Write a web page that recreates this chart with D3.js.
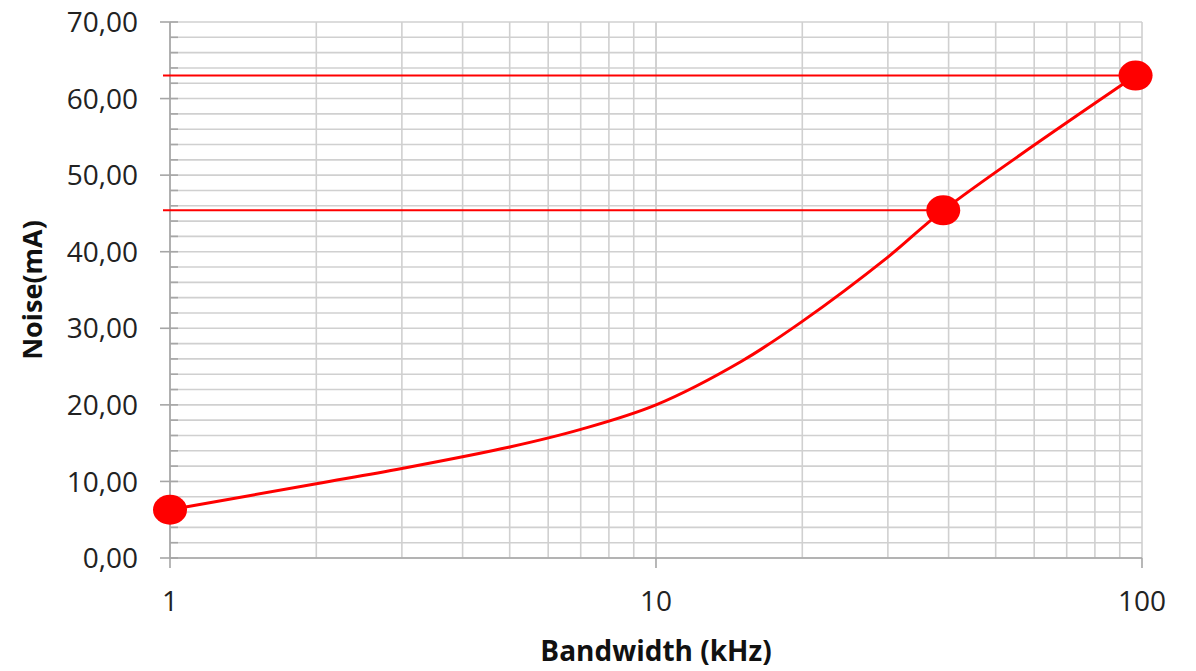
<!DOCTYPE html>
<html>
<head>
<meta charset="utf-8">
<script src="https://cdn.jsdelivr.net/npm/d3@7"></script>
<style>
  html, body { margin: 0; padding: 0; background: #fff; }
  svg { display: block; }
  text { font-family: "Open Sans", "DejaVu Sans", sans-serif; fill: #222; }
</style>
</head>
<body>
<svg id="chart"></svg>
<script>
// curve (bandwidth kHz -> noise mA)
const bandwidth = [1, 2, 3, 5, 7, 10, 15, 20, 30, 39, 97];
const noise = [6.3, 9.7, 11.7, 14.5, 16.8, 20.0, 25.7, 30.9, 39.3, 45.4, 63.0];

// highlighted points
const markBw = [1, 39, 97];
const markNoise = [6.3, 45.4, 63.0];
// reference lines drawn from the y axis to a marker
const refLineIdx = [1, 2];

const xTicks = [1, 10, 100];
const yTicks = [0, 10, 20, 30, 40, 50, 60, 70];

const W = 1196, H = 671;
const margin = { top: 22, right: 54, bottom: 113, left: 170 };
const width = W - margin.left - margin.right;
const height = H - margin.top - margin.bottom;

const svg = d3.select('#chart')
  .attr('width', W)
  .attr('height', H);

const g = svg.append('g')
  .attr('transform', 'translate(' + margin.left + ',' + margin.top + ')');

const x = d3.scaleLog().domain([1, 100]).range([0, width]);
const y = d3.scaleLinear().domain([0, 70]).range([height, 0]);

// grid: minor log lines for x, every 2 for y
const xGrid = [];
for (let dec = 1; dec < 100; dec *= 10) {
  for (let k = 1; k <= 10; k++) xGrid.push(dec * k);
}
const yGrid = d3.range(0, 70.001, 2);

g.append('g')
  .selectAll('line')
  .data(yGrid)
  .enter().append('line')
  .attr('x1', 0).attr('x2', width)
  .attr('y1', d => y(d)).attr('y2', d => y(d))
  .attr('stroke', '#d0d0d0')
  .attr('stroke-width', 1.6);

g.append('g')
  .selectAll('line')
  .data(xGrid)
  .enter().append('line')
  .attr('x1', d => x(d)).attr('x2', d => x(d))
  .attr('y1', 0).attr('y2', height)
  .attr('stroke', '#d0d0d0')
  .attr('stroke-width', 1.6);

// y axis with minor ticks inside
const yAxis = g.append('g');
yAxis.append('line')
  .attr('x1', 0).attr('x2', 0).attr('y1', 0).attr('y2', height)
  .attr('stroke', '#a6a6a6').attr('stroke-width', 1.6);
yAxis.selectAll('.minor')
  .data(yGrid)
  .enter().append('line')
  .attr('x1', 0).attr('x2', 8)
  .attr('y1', d => y(d)).attr('y2', d => y(d))
  .attr('stroke', '#a6a6a6').attr('stroke-width', 1.6);
yAxis.selectAll('.major')
  .data(yTicks)
  .enter().append('line')
  .attr('x1', -10).attr('x2', 0)
  .attr('y1', d => y(d)).attr('y2', d => y(d))
  .attr('stroke', '#a6a6a6').attr('stroke-width', 1.6);
yAxis.selectAll('text')
  .data(yTicks)
  .enter().append('text')
  .attr('x', -32)
  .attr('y', d => y(d))
  .attr('dy', '0.36em')
  .attr('text-anchor', 'end')
  .style('font-size', '28px')
  .text(d => d3.format('.2f')(d).replace('.', ','));

// x axis
const xAxis = g.append('g').attr('transform', 'translate(0,' + height + ')');
xAxis.append('line')
  .attr('x1', 0).attr('x2', width)
  .attr('stroke', '#a6a6a6').attr('stroke-width', 1.6);
xAxis.selectAll('.major')
  .data(xTicks)
  .enter().append('line')
  .attr('x1', d => x(d)).attr('x2', d => x(d))
  .attr('y1', 0).attr('y2', 10)
  .attr('stroke', '#a6a6a6').attr('stroke-width', 1.6);
xAxis.selectAll('text')
  .data(xTicks)
  .enter().append('text')
  .attr('x', d => x(d))
  .attr('y', 53)
  .attr('text-anchor', 'middle')
  .style('font-size', '28px')
  .text(d => d);

// axis titles
svg.append('text')
  .attr('x', 656)
  .attr('y', 661)
  .attr('text-anchor', 'middle')
  .style('font-size', '28px')
  .style('font-weight', 'bold')
  .style('fill', '#111')
  .text('Bandwidth (kHz)');

svg.append('text')
  .attr('transform', 'translate(42,' + (margin.top + height / 2) + ') rotate(-90)')
  .attr('text-anchor', 'middle')
  .style('font-size', '27px')
  .style('font-weight', 'bold')
  .style('fill', '#111')
  .text('Noise(mA)');

// reference lines
g.append('g')
  .selectAll('line')
  .data(refLineIdx)
  .enter().append('line')
  .attr('x1', -7)
  .attr('x2', i => x(markBw[i]))
  .attr('y1', i => y(markNoise[i]))
  .attr('y2', i => y(markNoise[i]))
  .attr('stroke', '#ff0000')
  .attr('stroke-width', 2);

// curve
const pts = bandwidth.map((b, i) => [b, noise[i]]);
g.append('path')
  .datum(pts)
  .attr('fill', 'none')
  .attr('stroke', '#ff0000')
  .attr('stroke-width', 3)
  .attr('d', d3.line()
    .x(d => x(d[0]))
    .y(d => y(d[1]))
    .curve(d3.curveCatmullRom.alpha(0.5)));

// markers
g.append('g')
  .selectAll('ellipse')
  .data(markBw)
  .enter().append('ellipse')
  .attr('cx', d => x(d))
  .attr('cy', (d, i) => y(markNoise[i]))
  .attr('rx', 17)
  .attr('ry', 15)
  .attr('fill', '#ff0000');
</script>
</body>
</html>
